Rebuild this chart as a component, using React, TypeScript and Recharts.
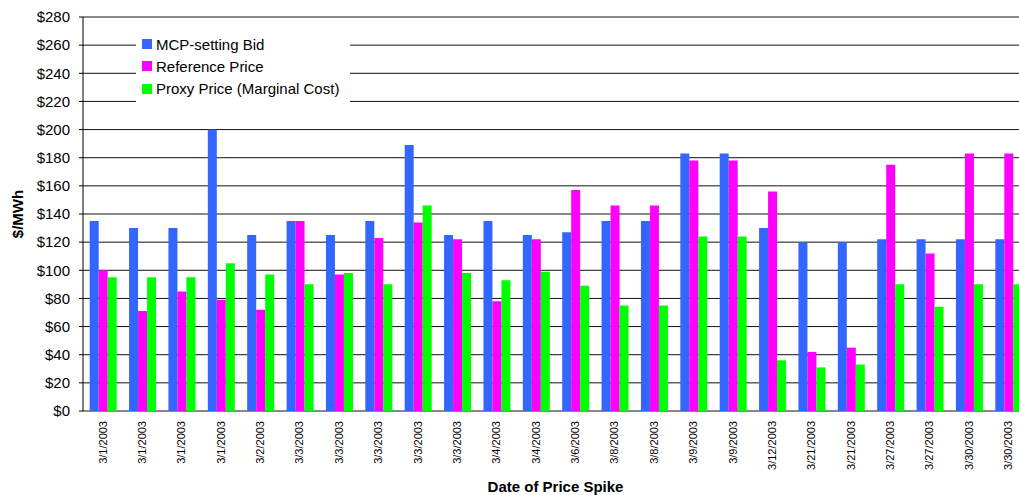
import { BarChart, Bar, XAxis, YAxis, CartesianGrid, Legend } from "recharts"

const dates = [
  "3/1/2003", "3/1/2003", "3/1/2003", "3/1/2003", "3/2/2003", "3/3/2003",
  "3/3/2003", "3/3/2003", "3/3/2003", "3/3/2003", "3/4/2003", "3/4/2003",
  "3/6/2003", "3/8/2003", "3/8/2003", "3/9/2003", "3/9/2003", "3/12/2003",
  "3/21/2003", "3/21/2003", "3/27/2003", "3/27/2003", "3/30/2003", "3/30/2003",
]

const mcpBid = [135, 130, 130, 200, 125, 135, 125, 135, 189, 125, 135, 125, 127, 135, 135, 183, 183, 130, 120, 120, 122, 122, 122, 122]
const referencePrice = [100, 71, 85, 79, 72, 135, 97, 123, 134, 122, 78, 122, 157, 146, 146, 178, 178, 156, 42, 45, 175, 112, 183, 183]
const proxyPrice = [95, 95, 95, 105, 97, 90, 98, 90, 146, 98, 93, 99, 89, 75, 75, 124, 124, 36, 31, 33, 90, 74, 90, 90]

const yTicks = [0, 20, 40, 60, 80, 100, 120, 140, 160, 180, 200, 220, 240, 260, 280]
const edgeTicks = Array.from({ length: dates.length + 1 }, (_, i) => i)

const series = [
  { key: "mcpBid", name: "MCP-setting Bid", color: "#3366FF" },
  { key: "referencePrice", name: "Reference Price", color: "#FF00FF" },
  { key: "proxyPrice", name: "Proxy Price (Marginal Cost)", color: "#00FF00" },
]

const chartData = dates.map((date, i) => ({
  date,
  mcpBid: mcpBid[i],
  referencePrice: referencePrice[i],
  proxyPrice: proxyPrice[i],
}))

const font = "Arial, 'Liberation Sans', sans-serif"

// rotated date labels, reading bottom to top, ending just under the axis
const renderDateTick = (props: any) => {
  const { x, y, payload } = props
  return (
    <text
      transform={`translate(${x},${y + 10}) rotate(-90)`}
      textAnchor="end"
      dy="0.35em"
      fontSize={11}
      fill="#000"
      fontFamily={font}
    >
      {payload.value}
    </text>
  )
}

const renderLegend = () => (
  <div style={{ background: "#fff", padding: "3px 6px", width: 202, fontFamily: font }}>
    {series.map((s) => (
      <div key={s.key} style={{ display: "flex", alignItems: "center", height: 22.3, fontSize: 15 }}>
        <span style={{ width: 10, height: 10, background: s.color, marginRight: 4 }} />
        <span>{s.name}</span>
      </div>
    ))}
  </div>
)

const renderXTitle = (props: any) => {
  const vb = props.viewBox
  return (
    <text
      x={vb.x + vb.width / 2}
      y={492}
      textAnchor="middle"
      fontSize={15}
      fontWeight="bold"
      fontFamily={font}
      fill="#000"
    >
      Date of Price Spike
    </text>
  )
}

const renderYTitle = (props: any) => {
  const vb = props.viewBox
  return (
    <text
      transform={`translate(18,${vb.y + vb.height / 2}) rotate(-90)`}
      textAnchor="middle"
      dy="0.35em"
      fontSize={15}
      fontWeight="bold"
      fontFamily={font}
      fill="#000"
    >
      $/MWh
    </text>
  )
}

export default function App() {
  return (
    <div style={{ position: "absolute", left: 0, top: 0, width: 1019, height: 495, overflow: "hidden", background: "#fff" }}>
      <BarChart
        width={1032}
        height={495}
        data={chartData}
        margin={{ top: 17, right: 4, left: 0, bottom: 0 }}
        barCategoryGap="17%"
        barGap={0}
        style={{ fontFamily: font }}
      >
        <CartesianGrid vertical={false} stroke="#111" strokeWidth={1} />
        <XAxis
          xAxisId="edge"
          type="number"
          domain={[0, dates.length]}
          ticks={edgeTicks}
          height={0}
          tickSize={4}
          tickFormatter={() => ""}
          axisLine={{ stroke: "#000" }}
          tickLine={{ stroke: "#000" }}
        />
        <XAxis
          dataKey="date"
          height={84}
          interval={0}
          axisLine={false}
          tickLine={false}
          tickSize={0}
          tickMargin={0}
          tick={renderDateTick}
          label={{ content: renderXTitle }}
        />
        <YAxis
          width={83}
          domain={[0, 280]}
          ticks={yTicks}
          interval={0}
          tickFormatter={(v) => `$${v}`}
          tick={{ fontSize: 15, fill: "#000" }}
          tickSize={4}
          tickMargin={9}
          axisLine={{ stroke: "#000" }}
          tickLine={{ stroke: "#000" }}
          label={{ content: renderYTitle }}
        />
        <Legend
          layout="vertical"
          align="center"
          verticalAlign="middle"
          content={renderLegend}
          wrapperStyle={{ position: "absolute", left: 136, top: 30, width: 214 }}
        />
        {series.map((s) => (
          <Bar key={s.key} dataKey={s.key} name={s.name} fill={s.color} isAnimationActive={false} />
        ))}
      </BarChart>
    </div>
  )
}
